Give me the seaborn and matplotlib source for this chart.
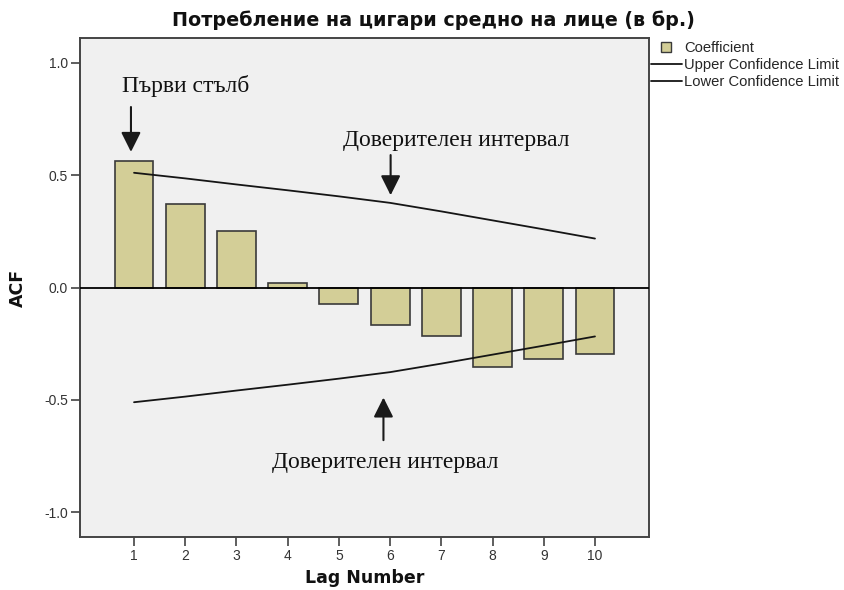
import matplotlib
matplotlib.use("Agg")
import matplotlib.pyplot as plt
from matplotlib.lines import Line2D
import pandas as pd
import seaborn as sns

# Autocorrelation of cigarette consumption per capita
title = "Потребление на цигари средно на лице (в бр.)"
lags = [1, 2, 3, 4, 5, 6, 7, 8, 9, 10]
acf = [0.562, 0.371, 0.251, 0.019, -0.074, -0.165, -0.218, -0.352, -0.318, -0.296]
upper_limit = [0.511, 0.486, 0.459, 0.433, 0.406, 0.377, 0.339, 0.299, 0.259, 0.218]
lower_limit = [-0.511, -0.486, -0.459, -0.433, -0.406, -0.377, -0.339, -0.299, -0.259, -0.218]
ytick_values = [-1.0, -0.5, 0.0, 0.5, 1.0]
ytick_labels = ["-1.0", "-0.5", "0.0", "0.5", "1.0"]
legend_labels = ["Coefficient", "Upper Confidence Limit", "Lower Confidence Limit"]

bar_color = "#d3ce97"
edge_color = "#3a3a3a"
line_color = "#151515"

sns.set_style("ticks")
plt.rcParams["font.family"] = ["Liberation Sans", "DejaVu Sans"]
bold_family = ["DejaVu Sans"]

df = pd.DataFrame({"lag": lags, "acf": acf})

W, H = 845, 590
fig = plt.figure(figsize=(W / 100, H / 100), dpi=100)
fig.patch.set_facecolor("white")
ax_left, ax_right, ax_top, ax_bottom = 80, 649, 38.3, 536.7
ax = fig.add_axes([ax_left / W, 1 - ax_bottom / H,
                   (ax_right - ax_left) / W, (ax_bottom - ax_top) / H])
ax.set_facecolor("#f0f0f0")

sns.barplot(data=df, x="lag", y="acf", native_scale=True, width=0.76,
            color=bar_color, saturation=1, edgecolor=edge_color,
            linewidth=1.2, ax=ax, zorder=3)
sns.lineplot(x=lags, y=upper_limit, color=line_color, lw=1.3, ax=ax, zorder=4)
sns.lineplot(x=lags, y=lower_limit, color=line_color, lw=1.3, ax=ax, zorder=4)
ax.axhline(0, color="black", lw=1.3, zorder=5)

ax.set_xlim(-0.055, 11.055)
ax.set_ylim(-1.11, 1.11)
ax.set_xticks(lags)
ax.set_xticklabels([str(v) for v in lags])
ax.set_yticks(ytick_values)
ax.set_yticklabels(ytick_labels)
ax.tick_params(axis="both", direction="out", length=6.5, width=1.1,
               color="#333333", labelcolor="#333333", labelsize=10, pad=2)
for side in ["left", "right", "top", "bottom"]:
    ax.spines[side].set_visible(True)
    ax.spines[side].set_color("#444444")
    ax.spines[side].set_linewidth(1.4)

ax.set_xlabel("Lag Number", fontsize=12.5, fontweight="bold", color="#111111",
              va="top", family=bold_family)
ax.xaxis.set_label_coords(0.5, -0.064)
ax.set_ylabel("ACF", fontsize=12.5, fontweight="bold", color="#111111",
              va="center", family=bold_family)
ax.yaxis.set_label_coords(-(ax_left - 18) / (ax_right - ax_left), 0.5)

fig.text(433.5 / W, 1 - 20 / H, title, ha="center", va="center",
         fontsize=13.8, fontweight="bold", color="#111111", family=bold_family)

# Annotations
serif = ["Liberation Serif", "DejaVu Serif"]
ax.text(2.0, 0.873, "Първи стълб", ha="center", va="baseline",
        fontsize=17, family=serif, color="#111111", zorder=6)
ax.text(7.29, 0.631, "Доверителен интервал", ha="center", va="baseline",
        fontsize=17, family=serif, color="#111111", zorder=6)
ax.text(5.90, -0.804, "Доверителен интервал", ha="center", va="baseline",
        fontsize=17, family=serif, color="#111111", zorder=6)

arrow_style = dict(arrowstyle="-|>,head_length=0.6,head_width=0.3",
                   mutation_scale=20, lw=1.5, color="#1a1a1a",
                   shrinkA=0, shrinkB=0)
for tail, tip in [((0.94, 0.804), (0.94, 0.604)),
                  ((6.01, 0.590), (6.01, 0.411)),
                  ((5.87, -0.680), (5.87, -0.490))]:
    ax.annotate("", xy=tip, xytext=tail, arrowprops=arrow_style, zorder=6)

handles = [
    Line2D([], [], marker="s", markersize=7, markerfacecolor=bar_color,
           markeredgecolor=edge_color, markeredgewidth=1.0, linestyle="none"),
    Line2D([], [], color=line_color, lw=1.3),
    Line2D([], [], color=line_color, lw=1.3),
]
fig.legend(handles, legend_labels, loc="upper left",
           bbox_to_anchor=(651 / W, 1 - 41 / H), frameon=False, fontsize=10.6,
           handlelength=2.1, handletextpad=0.15, labelspacing=0.2,
           borderaxespad=0, borderpad=0)

fig.savefig("out.png", dpi=100)
